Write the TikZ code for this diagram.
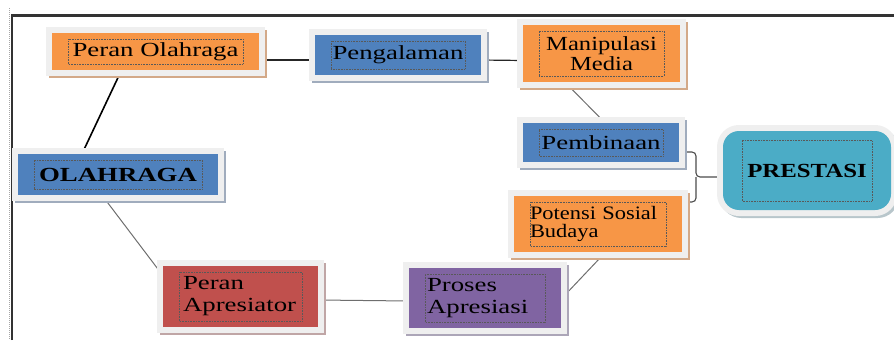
\documentclass[tikz,border=0pt]{standalone}
\usepackage{fontspec}
\setmainfont{Liberation Serif}[FakeStretch=1.34]
\usetikzlibrary{positioning,backgrounds,calc}
\definecolor{orangefill}{HTML}{F79646}
\definecolor{orangeshade}{HTML}{D3A988}
\definecolor{bluefill}{HTML}{4F81BD}
\definecolor{blueshade}{HTML}{A0ACBD}
\definecolor{redfill}{HTML}{C0504D}
\definecolor{redshade}{HTML}{C0A6A6}
\definecolor{purplefill}{HTML}{8064A2}
\definecolor{purpleshade}{HTML}{ACA6B8}
\definecolor{tealfill}{HTML}{4BACC6}
\definecolor{tealshade}{HTML}{B8C6CB}
\definecolor{framegray}{HTML}{EFEFEF}
\definecolor{dotgray}{HTML}{595959}
\definecolor{linegray}{HTML}{6E6E6E}
\tikzset{
    box inset x/.initial=16pt,
    box inset y/.initial=6pt,
    textframe/.style = {
        draw=dotgray,
        densely dotted,
        sharp corners,
        line width=0.6pt
    },
    box/.style = {
        shape=rectangle,
        inner sep=0pt,
        font=\fontsize{20}{22}\selectfont,
        preaction={draw=#1, fill=#1, line width=11pt, transform canvas={shift={(2.5pt,-2.5pt)}}},
        preaction={draw=framegray, line width=12pt},
        path picture={
            \draw[textframe]
                ([shift={(\pgfkeysvalueof{/tikz/box inset x},\pgfkeysvalueof{/tikz/box inset y})}]path picture bounding box.south west)
                rectangle
                ([shift={(-\pgfkeysvalueof{/tikz/box inset x},-\pgfkeysvalueof{/tikz/box inset y})}]path picture bounding box.north east);
        }
    },
    orangebox/.style = {box=orangeshade, fill=orangefill},
    bluebox/.style = {box=blueshade, fill=bluefill},
    redbox/.style = {box=redshade, fill=redfill},
    purplebox/.style = {box=purpleshade, fill=purplefill},
    tealbox/.style = {box=tealshade, fill=tealfill, rounded corners=16pt},
    link/.style = {draw=linegray, line width=1pt},
    darklink/.style = {draw=black!85, line width=1.2pt},
    boldlink/.style = {draw=black, line width=1.6pt},
    bracket/.style = {draw=black!70, line width=1.1pt, rounded corners=4pt},
    border/.style = {draw=black!80, line width=2.4pt}
}
\begin{document}
\begin{tikzpicture}[x=1pt, y=-1pt]
    \useasboundingbox (0,0) rectangle (894,340);

    \node[orangebox, minimum width=207pt, minimum height=37pt] (peran) at (155.5,51.5) {Peran Olahraga};
    \node[bluebox, minimum width=166pt, minimum height=40pt] (pengalaman) at (398,55) {Pengalaman};
    \node[orangebox, minimum width=157pt, minimum height=57pt, align=center,
        font=\fontsize{20}{20}\selectfont\addfontfeature{FakeStretch=1.23}] (manipulasi) at (601.5,53.5) {Manipulasi\\Media};
    \node[bluebox, minimum width=156pt, minimum height=39pt] (pembinaan) at (601,142.5) {Pembinaan};
    \node[tealbox, minimum width=168pt, minimum height=79pt, box inset x=19pt, box inset y=9pt,
        font=\fontsize{20}{22}\selectfont\bfseries\addfontfeature{FakeStretch=1.24}] (prestasi) at (807,170.5) {PRESTASI};
    \node[orangebox, minimum width=168pt, minimum height=56pt, text width=136pt, align=left,
        font=\fontsize{19}{18.5}\selectfont\addfontfeature{FakeStretch=1.18}] (potensi) at (598,224) {Potensi Sosial\\Budaya};
    \node[bluebox, minimum width=200pt, minimum height=41pt,
        font=\fontsize{20}{22}\selectfont\bfseries] (olahraga) at (118,174.5) {OLAHRAGA};
    \node[redbox, minimum width=155pt, minimum height=61pt, text width=115pt, align=left] (apresiator) at (240.5,296.5) {Peran\\Apresiator};
    \node[purplebox, minimum width=152pt, minimum height=60pt, text width=116pt, align=left] (proses) at (485,298) {Proses\\Apresiasi};

    \coordinate (join) at (696,177);

    \begin{scope}[on background layer]
        \path[border] (12,340) -- (12,15.5) -- (894,15.5);
        \path[draw=black!35, densely dotted, line width=1pt] (9,8) -- (9,340);

        \path[boldlink] ([xshift=-34pt]peran.south) -- ([xshift=-36pt]olahraga.north);
        \path[darklink] ([yshift=-8.5pt]peran.east) -- ([yshift=-5pt]pengalaman.west);
        \path[darklink] ([yshift=-5pt]pengalaman.east) -- ([yshift=-7pt]manipulasi.west);
        \path[link] ([xshift=-36.5pt]manipulasi.south) -- ([xshift=4pt]pembinaan.north);
        \path[link] ([xshift=-16pt]olahraga.south) -- ([yshift=21pt]apresiator.west);
        \path[link] ([yshift=-3.5pt]apresiator.east) -- ([yshift=-3pt]proses.west);
        \path[link] ([yshift=-1pt]proses.east) -- ([xshift=7.5pt]potensi.south);
        \path[bracket] ([yshift=-9.5pt]pembinaan.east) -| (join) -- (prestasi.west |- join);
        \path[bracket] ([yshift=22pt]potensi.east) -| (join);
    \end{scope}
\end{tikzpicture}
\end{document}
